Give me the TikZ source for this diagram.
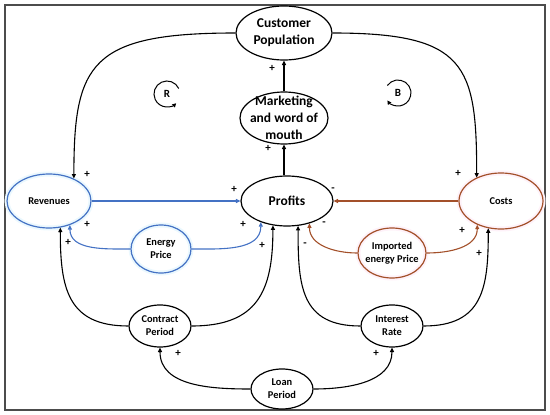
\documentclass[tikz,border=0pt]{standalone}
\usepackage{fontspec}
\setmainfont{Carlito}
\usetikzlibrary{arrows.meta, positioning, shapes.geometric}
\definecolor{revblue}{HTML}{4472C4}
\definecolor{costbrown}{HTML}{A3502A}

\begin{document}
\begin{tikzpicture}[x=1pt, y=1pt,
  var/.style={ellipse, draw, line width=1.2pt, inner sep=-12pt, align=center, font=\fontsize{10.4}{13}\selectfont\bfseries},
  bigvar/.style={var, font=\fontsize{13.5}{17}\selectfont\bfseries},
  bluevar/.style={var, draw=revblue, preaction={draw=cyan!8, line width=5pt}},
  brownvar/.style={var, draw=costbrown, preaction={draw=magenta!5, line width=5pt}},
  link/.style={-{Triangle[length=4.5pt,width=4pt]}, line width=1.1pt},
  bluelink/.style={link, draw=revblue},
  brownlink/.style={link, draw=costbrown},
  loopline/.style={-{Triangle[length=4pt,width=4pt]}, line width=1pt},
  sign/.style={font=\fontsize{11}{11}\selectfont\bfseries, inner sep=0pt}]
\useasboundingbox (0,0) rectangle (550,-415);
\draw[line width=1.3pt, black!70] (5,-5) rectangle (545,-410);

% variables
\node[bigvar, minimum width=96pt, minimum height=54pt] (cust) at (284,-33) {Customer\\Population};
\node[bigvar, minimum width=88pt, minimum height=52pt] (mkt) at (284,-118) {Marketing\\and word of\\mouth};
\node[bigvar, minimum width=92pt, minimum height=50pt] (prof) at (287,-201) {Profits};
\node[bluevar, minimum width=84pt, minimum height=54pt] (rev) at (49,-201) {Revenues};
\node[brownvar, minimum width=84pt, minimum height=56pt] (cost) at (501,-201) {Costs};
\node[bluevar, minimum width=60pt, minimum height=48pt] (enp) at (161,-249) {Energy\\Price};
\node[brownvar, minimum width=68pt, minimum height=50pt] (imp) at (392,-253) {Imported\\energy Price};
\node[var, minimum width=62pt, minimum height=42pt] (ctr) at (160,-326) {Contract\\Period};
\node[var, minimum width=62pt, minimum height=42pt] (rate) at (392,-326) {Interest\\Rate};
\node[var, minimum width=62pt, minimum height=40pt] (loan) at (282,-389) {Loan\\Period};

% loop markers
\node[sign] (loopR) at (167,-94) {R};
\node[sign] (loopB) at (398,-93) {B};
\draw[loopline] (loopR.center) ++(25:13pt) arc[start angle=25, end angle=315, radius=13pt];
\draw[loopline] (loopB.center) ++(145:13pt) arc[start angle=145, end angle=-145, radius=13pt];

% links
\draw[link] (mkt.north) -- (cust.south);
\draw[link] (prof.north -| mkt.south) -- (mkt.south);
\draw[link] (cust.west) .. controls +(-145,0) and +(0,115) .. (rev.42);
\draw[link] (cust.east) .. controls +(133,0) and +(0,113) .. (cost.136);
\draw[bluelink] (rev.east) -- (prof.west);
\draw[brownlink] (cost.west) -- (prof.east);
\draw[bluelink] (enp.west) to[out=180, in=-90] (rev.-49);
\draw[bluelink] (enp.east) to[out=0, in=-90] (prof.-141);
\draw[brownlink] (imp.west) to[out=180, in=-90] (prof.-45);
\draw[brownlink] (imp.east) to[out=0, in=-90] (cost.-135);
\draw[link] (ctr.west) to[out=180, in=-90, looseness=1.3] (rev.-67);
\draw[link] (ctr.east) to[out=0, in=-90, looseness=1.3] (prof.-120);
\draw[link] (rate.west) to[out=180, in=-90, looseness=1.3] (prof.-66);
\draw[link] (rate.east) to[out=0, in=-90, looseness=1.3] (cost.-115);
\draw[link] (loan.west) to[out=180, in=-90] (ctr.south);
\draw[link] (loan.east) to[out=0, in=-90] (rate.south);

% polarities
\foreach \x/\y/\s [count=\i] in {87/174/+, 272/68/+, 268/148/+, 234/189/+, 333/190/-, 458/173/+,
    87/224/+, 68/242/+, 243/224/+, 262/245/+, 324/224/-, 305/245/-, 462/230/+, 479/253/+,
    178/353/+, 376/353/+}
  \node[sign] (pol\i) at (\x,-\y) {\s};
\end{tikzpicture}
\end{document}
